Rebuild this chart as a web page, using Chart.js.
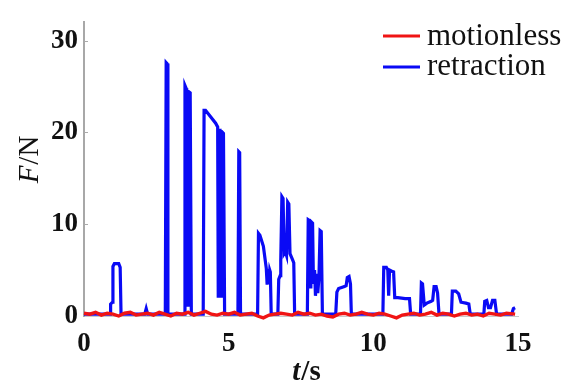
<!DOCTYPE html>
<html>
<head>
<meta charset="utf-8">
<script src="https://cdn.jsdelivr.net/npm/chart.js@4/dist/chart.umd.min.js"></script>
<style>
html,body{margin:0;padding:0;background:#fff;}
canvas{display:block;}
</style>
</head>
<body>
<canvas id="c" width="566" height="385"></canvas>
<script>
// ---- data ----
const seriesNames = ["motionless", "retraction"];
const xTicks = [0, 5, 10, 15];
const yTicks = [0, 10, 20, 30];

const redT = [0,0.2,0.4,0.6,0.8,1.0,1.2,1.4,1.6,1.8,2.0,2.2,2.4,2.6,2.8,3.0,3.2,3.4,3.6,3.8,4.0,4.2,4.4,4.6,4.8,5.0,5.2,5.4,5.6,5.8,6.0,6.2,6.4,6.6,6.8,7.0,7.2,7.4,7.6,7.8,8.0,8.2,8.4,8.6,8.8,9.0,9.2,9.4,9.6,9.8,10.0,10.2,10.4,10.6,10.8,11.0,11.2,11.4,11.6,11.8,12.0,12.2,12.4,12.6,12.8,13.0,13.2,13.4,13.6,13.8,14.0,14.2,14.4,14.6,14.9];
const redF = [0.3,0.2,0.4,0.1,0.3,0.2,0.0,0.3,0.4,0.1,0.2,0.3,0.1,0.4,0.2,0.0,0.3,0.2,0.4,0.1,0.3,0.5,0.2,0.1,0.3,0.2,0.4,0.1,0.2,0.3,0.0,-0.2,0.1,0.2,0.3,0.2,0.1,0.4,0.2,0.3,0.1,0.2,0.0,-0.1,0.2,0.3,0.1,0.2,0.4,0.2,0.1,0.3,0.2,0.0,-0.2,0.1,0.2,0.3,0.1,0.2,0.4,0.1,0.3,0.2,0.0,0.2,0.3,0.1,0.2,0.0,0.3,0.2,0.1,0.3,0.2];

const blueT = [0,0.9,0.92,0.98,1.0,1.05,1.2,1.25,1.28,2.1,2.15,2.2,
  2.81,2.84,2.87,2.9,
  3.46,3.49,3.53,3.55,3.58,3.6,3.63,3.67,3.71,
  4.12,4.15,4.2,4.55,4.62,4.64,4.67,4.7,4.73,4.76,4.79,4.82,4.86,
  5.32,5.35,5.38,5.41,
  6.0,6.03,6.08,6.2,6.3,6.33,6.36,6.39,6.42,6.44,6.47,
  6.7,6.73,6.78,6.8,6.84,6.88,6.92,6.96,7.0,7.04,7.08,7.12,7.2,7.25,7.28,
  7.72,7.75,7.8,7.84,7.87,7.9,7.93,7.97,8.0,8.04,8.08,8.12,8.16,8.2,8.24,
  8.7,8.74,8.8,9.0,9.06,9.1,9.16,9.21,9.24,
  10.33,10.36,10.45,10.5,10.53,10.56,10.62,10.7,10.74,10.85,11.1,11.25,11.29,
  11.63,11.66,11.7,11.76,11.85,12.0,12.05,12.1,12.17,12.22,12.27,
  12.7,12.73,12.85,12.95,13.03,13.2,13.3,13.35,
  13.82,13.85,13.92,13.98,14.05,14.12,14.2,14.26,
  14.78,14.84,14.9];
const blueF = [0.2,0.2,1.3,1.5,5.4,5.7,5.7,5.3,0.2,0.2,0.8,0.2,
  0.2,27.6,27.5,0.2,
  0.2,25.1,24.8,1.0,23.5,1.0,24.4,24.3,0.2,
  0.2,22.4,22.4,21.0,20.6,2.0,20.4,2.0,20.2,2.0,20.0,19.9,0.2,
  0.2,17.9,17.8,0.2,
  0.2,9.0,8.8,7.6,5.2,3.4,5.1,3.5,5.0,4.8,0.2,
  0.2,4.0,4.4,6.0,13.0,12.8,6.8,7.0,6.6,12.4,12.2,6.8,6.2,5.8,0.2,
  0.2,10.5,10.4,3.0,10.2,10.1,3.5,5.0,2.2,4.6,2.5,4.2,9.3,9.2,0.2,
  0.2,2.6,3.0,3.2,3.3,4.2,4.3,3.5,0.2,
  0.2,5.3,5.3,5.0,2.2,5.0,4.9,4.8,2.0,2.0,1.9,1.9,0.2,
  0.2,3.6,3.5,1.2,1.4,1.6,1.7,3.2,3.2,2.5,0.2,
  0.2,2.7,2.7,2.4,1.5,1.4,1.3,0.2,
  0.2,1.6,1.7,0.9,0.9,1.7,1.7,0.2,
  0.2,0.8,0.9];

const seriesColors = ["rgb(240,20,20)", "rgb(10,10,245)"];

// ---- build ----
const toPts = (ts, vs) => ts.map((t, i) => ({x: t, y: vs[i]}));
const FONT = "'Liberation Serif', 'Times New Roman', serif";

const decor = {
  id: 'decor',
  afterDraw(chart) {
    const ctx = chart.ctx;
    const ys = chart.scales.y;
    const ca = chart.chartArea;
    ctx.save();
    // small inward y ticks
    ctx.strokeStyle = '#aaa';
    ctx.lineWidth = 1;
    yTicks.forEach(v => {
      if (v === 0) return;
      const py = Math.round(ys.getPixelForValue(v)) + 0.5;
      ctx.beginPath(); ctx.moveTo(ca.left, py); ctx.lineTo(ca.left + 4, py); ctx.stroke();
    });
    // legend
    const lx0 = 383, lx1 = 420;
    const rows = [{y: 36, base: 45}, {y: 67, base: 75}];
    seriesNames.forEach((name, i) => {
      ctx.strokeStyle = seriesColors[i];
      ctx.lineWidth = 3;
      ctx.beginPath(); ctx.moveTo(lx0, rows[i].y); ctx.lineTo(lx1, rows[i].y); ctx.stroke();
      ctx.fillStyle = '#111';
      ctx.font = "31px " + FONT;
      ctx.textBaseline = 'alphabetic';
      ctx.textAlign = 'left';
      ctx.fillText(name, 427, rows[i].base);
    });
    // x title: t/s (bold, t italic)
    ctx.fillStyle = '#111';
    ctx.textBaseline = 'alphabetic';
    ctx.textAlign = 'left';
    const f1 = "italic bold 29px " + FONT, f2 = "bold 29px " + FONT;
    ctx.font = f1; const w1 = ctx.measureText('t').width;
    ctx.font = f2; const w2 = ctx.measureText('/s').width;
    let sx = 306 - (w1 + w2) / 2;
    ctx.font = f1; ctx.fillText('t', sx, 380);
    ctx.font = f2; ctx.fillText('/s', sx + w1 + 1, 380);
    // y title: F/N rotated
    ctx.translate(38, 160);
    ctx.rotate(-Math.PI / 2);
    const g1 = "italic 29px " + FONT, g2 = "29px " + FONT;
    ctx.font = g1; const v1 = ctx.measureText('F').width;
    ctx.font = g2; const v2 = ctx.measureText('/N').width;
    let tx = -(v1 + v2) / 2;
    ctx.font = g1; ctx.fillText('F', tx, 0);
    ctx.font = g2; ctx.fillText('/N', tx + v1 + 1, 0);
    ctx.restore();
  }
};

new Chart(document.getElementById('c'), {
  type: 'line',
  data: {
    datasets: [
      {label: seriesNames[0], data: toPts(redT, redF), borderColor: seriesColors[0], borderWidth: 3.4, pointRadius: 0, tension: 0, clip: false},
      {label: seriesNames[1], data: toPts(blueT, blueF), borderColor: seriesColors[1], borderWidth: 3.2, pointRadius: 0, tension: 0, clip: false}
    ]
  },
  options: {
    responsive: false,
    animation: false,
    events: [],
    layout: {padding: {left: 0, right: 48, top: 9, bottom: 0}},
    plugins: {legend: {display: false}, tooltip: {enabled: false}},
    scales: {
      x: {
        type: 'linear', min: 0, max: 15,
        afterBuildTicks: s => { s.ticks = xTicks.map(v => ({value: v})); },
        afterFit: s => { s.height = 69; },
        grid: {display: false, drawTicks: false},
        border: {display: true, color: '#c8c8c8', width: 1},
        ticks: {color: '#111', padding: 12, maxRotation: 0, font: {family: FONT, size: 27, weight: 'bold'}}
      },
      y: {
        type: 'linear', min: 0, max: 32,
        afterBuildTicks: s => { s.ticks = yTicks.map(v => ({value: v})); },
        afterFit: s => { s.width = 84; },
        grid: {display: false, drawTicks: false},
        border: {display: true, color: '#a8a8a8', width: 2},
        ticks: {color: '#111', padding: 6, font: {family: FONT, size: 27, weight: 'bold'}}
      }
    }
  },
  plugins: [decor]
});
</script>
</body>
</html>
